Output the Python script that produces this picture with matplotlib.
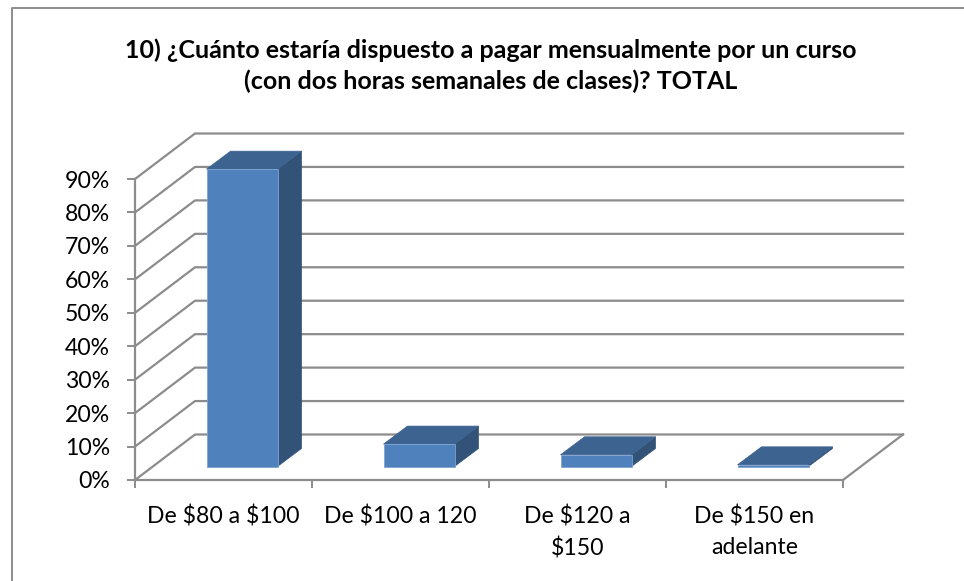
import numpy as np
import matplotlib
matplotlib.use("Agg")
import matplotlib.pyplot as plt
from matplotlib.lines import Line2D
from matplotlib.patches import Polygon, Rectangle

categories = ["De \\$80 a \\$100", "De \\$100 a 120", "De \\$120 a\n\\$150", "De \\$150 en\nadelante"]
values = [88.9, 6.7, 3.5, 0.5]
pct_ticks = [0, 10, 20, 30, 40, 50, 60, 70, 80, 90]

W, H = 964, 581
GRAY = "#8c8c8c"
FRONT, TOP, SIDE = "#4f81bd", "#3d6391", "#335277"

plt.rcParams['font.family'] = ['Lato', 'DejaVu Sans']
fig = plt.figure(figsize=(W/100, H/100), dpi=100)

# chart frame, only top and left are inside the picture
fig.add_artist(Line2D([11.5/W, 11.5/W, 1], [0, 1-8/H, 1-8/H], color=GRAY, lw=1.4))

# plot box in pixels: x 135..843, y 179..480
ax = fig.add_axes([135/W, 1-480/H, 708/W, 301/H])
ax.set_xlim(0, 4)
ax.set_ylim(0, 90)
px_x = 4/708
px_y = 90/301
dx_wall, dy_wall = 60*px_x, 45.5*px_y   # depth of the floor
dx_bar, dy_bar = 24*px_x, 18*px_y       # depth of a bar
bar_w = 71*px_x
base = 13.5*px_y

for t in pct_ticks:
    ax.plot([0, dx_wall, 4+dx_wall], [t, t+dy_wall, t+dy_wall], color=GRAY, lw=1.6, clip_on=False, zorder=1)
ax.plot([4, 4+dx_wall], [0, dy_wall], color=GRAY, lw=1.6, clip_on=False, zorder=1)

for i, v in enumerate(values):
    x0 = i + 71.5*px_x
    x1 = x0 + bar_w
    y0, y1 = base, base + v
    ax.add_patch(Polygon([(x1, y0), (x1+dx_bar, y0+dy_bar), (x1+dx_bar, y1+dy_bar), (x1, y1)], fc=SIDE, ec=SIDE, lw=0.5, clip_on=False, zorder=3))
    ax.add_patch(Polygon([(x0, y1), (x0+dx_bar, y1+dy_bar), (x1+dx_bar, y1+dy_bar), (x1, y1)], fc=TOP, ec=TOP, lw=0.5, clip_on=False, zorder=3))
    ax.add_patch(Rectangle((x0, y0), bar_w, v, fc=FRONT, ec="#7fa3d0", lw=0.6, clip_on=False, zorder=4))

for s in ["top", "right"]:
    ax.spines[s].set_visible(False)
for s in ["left", "bottom"]:
    ax.spines[s].set_color(GRAY)
    ax.spines[s].set_linewidth(1.6)
    ax.spines[s].set_zorder(2)

ax.set_yticks(pct_ticks)
ax.set_yticklabels(["%d%%" % t for t in pct_ticks])
ax.set_xticks(range(5))
ax.set_xticklabels([])
ax.set_xticks(np.arange(4) + 0.5, categories, minor=True, linespacing=1.55)
ax.tick_params(axis="both", which="major", length=5.8, width=1.4, color=GRAY, labelsize=16.6, pad=12)
ax.tick_params(axis="x", which="minor", length=0, labelsize=16.6, pad=18.5)

fig.text(490.5/W, 1-66/H, "10) ¿Cuánto estaría dispuesto a pagar mensualmente por un curso\n(con dos horas semanales de clases)? TOTAL",
         ha="center", va="center", fontsize=18, fontweight="bold", linespacing=1.38)

fig.savefig("out.png", dpi=100)
